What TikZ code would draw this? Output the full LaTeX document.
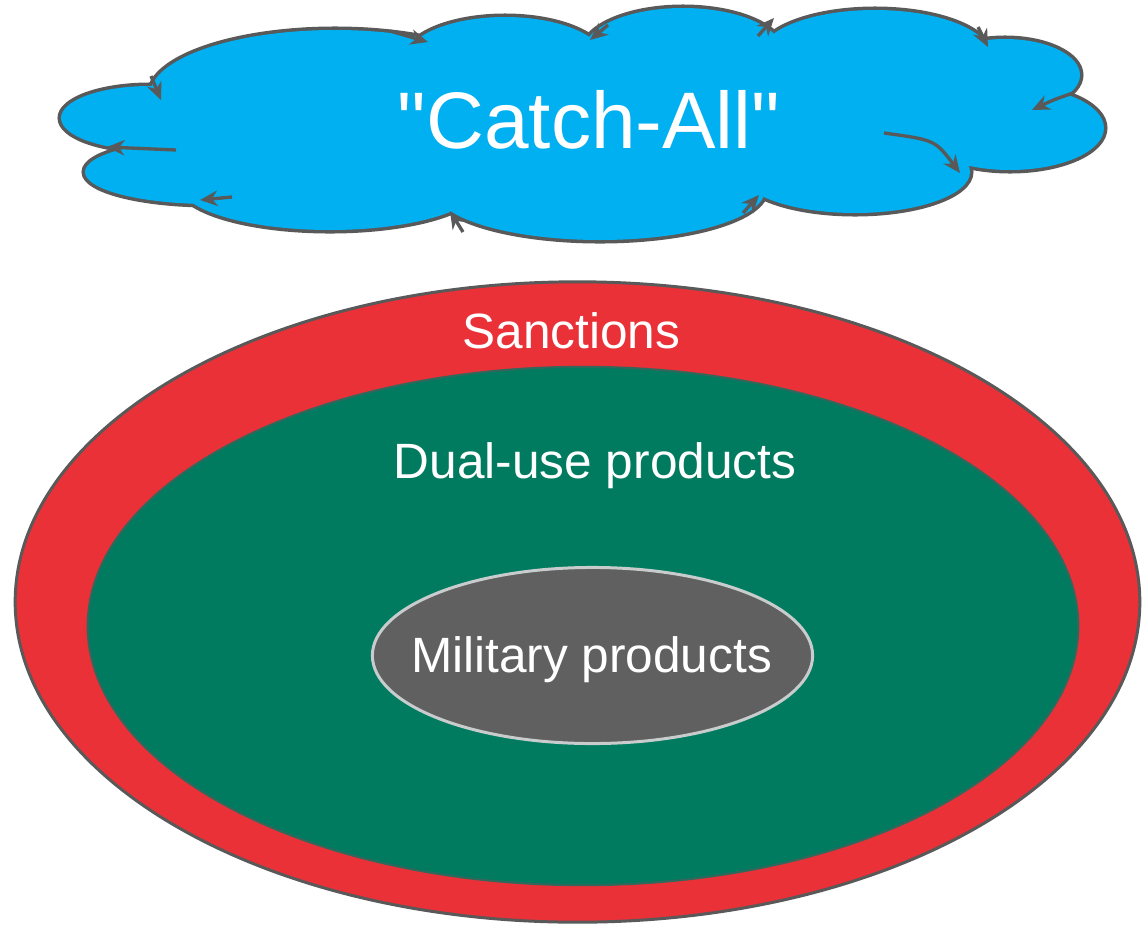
\documentclass[tikz,border=0pt]{standalone}
\usepackage{fontspec}
\setmainfont{Liberation Sans}
\newfontfamily\cloudfont{Liberation Sans}
\usetikzlibrary{arrows,arrows.meta,shapes.geometric}
\pgfdeclarelayer{edgelayer}
\pgfdeclarelayer{nodelayer}
\pgfsetlayers{edgelayer,nodelayer,main}
\definecolor{cloudblue}{RGB}{0,176,240}
\definecolor{rimgray}{RGB}{89,89,89}
\definecolor{sanctred}{RGB}{234,49,56}
\definecolor{dualgreen}{RGB}{0,123,96}
\definecolor{milgray}{RGB}{96,96,96}
\definecolor{milrim}{RGB}{200,204,204}
\tikzstyle{none}=[inner sep=0pt]
\tikzstyle{sanctset}=[ellipse,fill=sanctred,draw=rimgray,line width=0.85pt,minimum width=11.24cm,minimum height=6.4cm,inner sep=0pt]
\tikzstyle{dualset}=[ellipse,fill=dualgreen,draw=rimgray!55!dualgreen,line width=0.6pt,minimum width=9.9cm,minimum height=5.18cm,inner sep=0pt]
\tikzstyle{milset}=[ellipse,fill=milgray,draw=milrim,line width=0.85pt,minimum width=4.4cm,minimum height=1.76cm,inner sep=0pt]
\tikzstyle{setlabel}=[inner sep=0pt,anchor=base,text=white,font=\fontsize{14.1}{17}\selectfont]
\tikzstyle{cloudlabel}=[inner sep=0pt,anchor=base,text=white,font=\cloudfont\fontsize{22.8}{27}\selectfont]
\tikzstyle{puffrim}=[draw=rimgray,line width=2pt]
\tikzstyle{puff}=[fill=cloudblue]
\tikzstyle{puffarrow}=[->,>={Stealth[length=5pt,width=4.4pt]},draw=rimgray,line width=0.95pt]
\def\puffs{150/118/89/32, 210/172/125/32, 330/185/150/45, 600/190/165/50, 855/172/115/41, 1010/128/94/42, 1005/75/75/36, 875/55/115/45, 683/52/100/44, 505/60/100/43, 335/95/185/65, 590/125/440/75}

\begin{document}
\begin{tikzpicture}[x=0.01cm,y=-0.01cm]
	\useasboundingbox (0,0) rectangle (1142,927);
	\begin{pgfonlayer}{edgelayer}
		\foreach \cx/\cy/\rx/\ry in \puffs
			\draw [style=puffrim] (\cx,\cy) ellipse [x radius=\rx, y radius=\ry];
	\end{pgfonlayer}
	\begin{pgfonlayer}{nodelayer}
		\foreach \cx/\cy/\rx/\ry in \puffs
			\fill [style=puff] (\cx,\cy) ellipse [x radius=\rx, y radius=\ry];
	\end{pgfonlayer}
	\draw [style=puffarrow] (151,76) -- (161,100);
	\draw [style=puffarrow] (390,31) -- (428,42);
	\draw [style=puffarrow] (608,25) -- (590,40);
	\draw [style=puffarrow] (758,36) -- (774,18);
	\draw [style=puffarrow] (978,27) -- (988,47);
	\draw [style=puffarrow] (1073,93) .. controls (1053,100) .. (1032,110);
	\draw [style=puffarrow] (884,133) .. controls (935,140) .. (960,173);
	\draw [style=puffarrow] (743,213) -- (759,195);
	\draw [style=puffarrow] (463,232) -- (450,211);
	\draw [style=puffarrow] (232,197) -- (200,200);
	\draw [style=puffarrow] (176,150) -- (107,147);
	\node [style=cloudlabel] (catchall) at (589,148) {"Catch-All"};

	\node [style=sanctset] (sanctions) at (577.5,602) {};
	\node [style=dualset] (dualuse) at (583,626) {};
	\node [style=milset] (military) at (592.5,655.5) {};
	\node [style=setlabel] (sanctlabel) at (571.5,348) {Sanctions};
	\node [style=setlabel] (duallabel) at (595,478) {Dual-use products};
	\node [style=setlabel] (millabel) at (591.5,672) {Military products};
\end{tikzpicture}
\end{document}
